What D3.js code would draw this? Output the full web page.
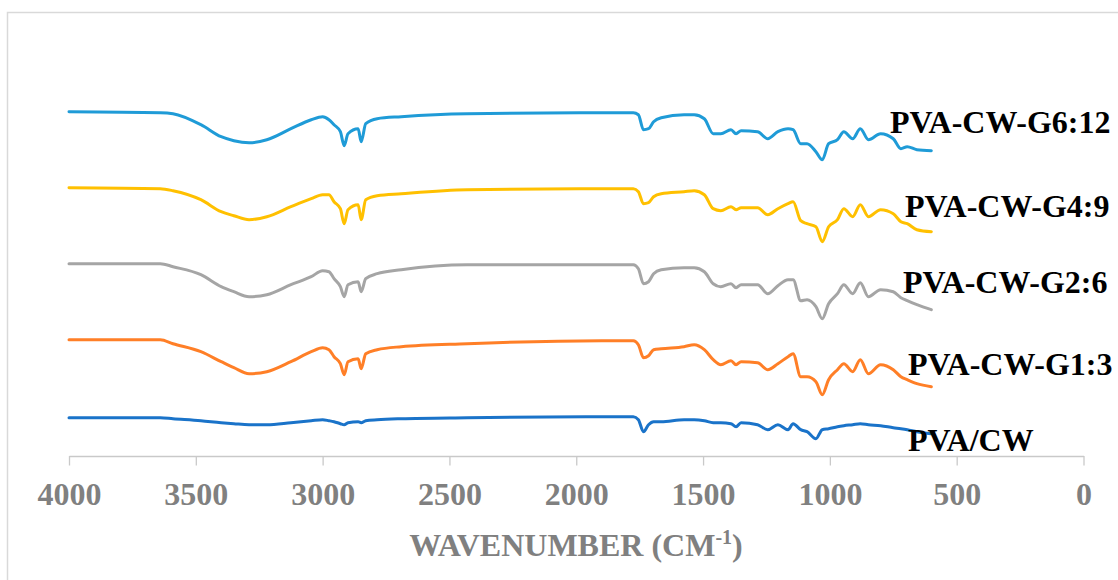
<!DOCTYPE html>
<html>
<head>
<meta charset="utf-8">
<script src="https://cdn.jsdelivr.net/npm/d3@7"></script>
<style>
  body { margin: 0; background: #fff; }
  svg { display: block; }
  text { font-family: "Liberation Serif", "Times New Roman", serif; font-weight: bold; }
</style>
</head>
<body>
<svg></svg>
<script>
// wavenumbers (cm-1), shared by every spectrum
const wavenumbers = [4000, 3640, 3590, 3480, 3400, 3350, 3290, 3220, 3125, 3045,
    3000, 2975, 2955, 2930, 2915, 2900, 2860, 2848, 2830, 2785,
    2690, 2430, 1900, 1775, 1755, 1735, 1715, 1695, 1665, 1575,
    1535, 1495, 1460, 1430, 1390, 1370, 1350, 1285, 1245, 1205,
    1165, 1145, 1115, 1090, 1055, 1030, 1005, 970, 945, 910,
    880, 848, 800, 750, 720, 695, 657, 600];

// stacked transmittance (arbitrary units, offset per sample)
const pvaCw = [39, 39, 38, 36, 34, 33, 32, 32, 34, 36,
    37, 36, 35, 33, 32, 34, 35, 34, 36, 37,
    38, 39, 40, 40, 37, 25, 32, 35, 35, 37,
    37, 36, 34, 34, 33, 30, 34, 32, 27, 32,
    27, 33, 27, 25, 18, 27, 28, 30, 31, 32,
    33, 32, 31, 29, 28, 27, 25, 23];
const g13 = [117, 117, 113, 105, 95, 89, 83, 85, 95, 105,
    109, 107, 100, 93, 82, 95, 98, 88, 103, 107,
    110, 113, 116, 116, 112, 99, 101, 107, 108, 110,
    112, 107, 97, 92, 96, 92, 95, 94, 87, 93,
    100, 103, 80, 80, 75, 62, 77, 87, 93, 85,
    97, 83, 92, 87, 80, 77, 73, 70];
const g26 = [193, 193, 190, 182, 170, 165, 160, 162, 172, 180,
    186, 185, 178, 170, 160, 172, 175, 165, 178, 183,
    187, 192, 192, 192, 188, 173, 175, 183, 187, 189,
    189, 185, 173, 170, 173, 169, 172, 172, 163, 171,
    177, 177, 156, 157, 150, 138, 153, 163, 172, 163,
    174, 160, 167, 165, 159, 156, 152, 147];
const g49 = [269, 268, 266, 257, 245, 241, 237, 240, 250, 258,
    262, 262, 255, 248, 233, 247, 252, 237, 257, 261,
    263, 267, 268, 268, 265, 253, 254, 260, 263, 265,
    266, 262, 248, 246, 250, 247, 249, 249, 242, 248,
    253, 255, 236, 233, 230, 215, 230, 237, 248, 240,
    252, 240, 247, 243, 235, 233, 227, 225];
const g612 = [345, 344, 343, 332, 320, 316, 314, 317, 328, 337,
    340, 337, 332, 325, 311, 323, 328, 315, 333, 338,
    340, 343, 344, 344, 342, 327, 328, 335, 339, 342,
    342, 338, 323, 323, 327, 323, 326, 325, 318, 325,
    328, 327, 313, 313, 305, 297, 313, 317, 325, 318,
    328, 317, 323, 318, 308, 310, 307, 306];

const seriesNames = ["PVA/CW", "PVA-CW-G1:3", "PVA-CW-G2:6", "PVA-CW-G4:9", "PVA-CW-G6:12"];
const seriesValues = [pvaCw, g13, g26, g49, g612];
const xTicks = [4000, 3500, 3000, 2500, 2000, 1500, 1000, 500, 0];

// styling / layout
const colors = ["#1a73c9", "#ff7f27", "#a5a5a5", "#ffc000", "#1f9bd7"];
const labelPos = [[908, 451], [908, 375], [903, 293], [905, 216.5], [890, 133]];
const serif = "'Liberation Serif', 'Times New Roman', serif";

const width = 1118;
const height = 580;
const axisY = 456;

const svg = d3.select("svg")
    .attr("width", width)
    .attr("height", height);

// chart area border (runs off the right and bottom edges)
svg.append("rect")
    .attr("x", 7.5)
    .attr("y", 12.5)
    .attr("width", width + 20)
    .attr("height", height + 20)
    .attr("fill", "#fff")
    .attr("stroke", "#d9d9d9")
    .attr("stroke-width", 1.5);

const xScale = d3.scaleLinear()
    .domain([4000, 0])
    .range([69, 1083.5]);

const yScale = d3.scaleLinear()
    .domain([0, 400])
    .range([456.7, 56.7]);

// x axis
const xAxis = d3.axisBottom(xScale)
    .tickValues(xTicks)
    .tickSize(9.5)
    .tickSizeOuter(0)
    .tickFormat(d3.format("d"));

const ax = svg.append("g")
    .attr("class", "x-axis")
    .attr("transform", `translate(0,${axisY})`)
    .call(xAxis)
    .attr("font-family", serif)
    .attr("font-size", 32)
    .attr("font-weight", "bold");

ax.select(".domain").attr("stroke", "#c9c9c9").attr("stroke-width", 1.3);
ax.selectAll(".tick line").attr("stroke", "#c9c9c9").attr("stroke-width", 1.3);
ax.selectAll(".tick text")
    .attr("y", 49)
    .attr("dy", null)
    .attr("fill", "#808080")
    .attr("font-family", serif)
    .attr("font-weight", "bold")
    .attr("font-size", 32);

// axis title
const title = svg.append("text")
    .attr("x", 576)
    .attr("y", 556)
    .attr("text-anchor", "middle")
    .attr("fill", "#808080")
    .attr("font-family", serif)
    .attr("font-weight", "bold")
    .attr("font-size", 32);
title.append("tspan").text("WAVENUMBER (CM");
title.append("tspan").attr("dy", -12).attr("font-size", 20).text("-1");
title.append("tspan").attr("dy", 12).text(")");

// spectra
const line = d3.line()
    .x(d => xScale(d[0]))
    .y(d => yScale(d[1]))
    .curve(d3.curveMonotoneX);

const series = seriesNames.map((name, i) => ({
    name: name,
    points: wavenumbers.map((w, j) => [w, seriesValues[i][j]])
}));

svg.append("g")
    .selectAll("path")
    .data(series)
    .enter()
    .append("path")
    .attr("d", d => line(d.points))
    .attr("fill", "none")
    .attr("stroke", (d, i) => colors[i])
    .attr("stroke-width", 3)
    .attr("stroke-linejoin", "round")
    .attr("stroke-linecap", "round");

// series labels
svg.append("g")
    .selectAll("text")
    .data(series)
    .enter()
    .append("text")
    .attr("x", (d, i) => labelPos[i][0])
    .attr("y", (d, i) => labelPos[i][1])
    .attr("fill", "#000")
    .attr("font-family", serif)
    .attr("font-weight", "bold")
    .attr("font-size", 32)
    .text(d => d.name);
</script>
</body>
</html>
